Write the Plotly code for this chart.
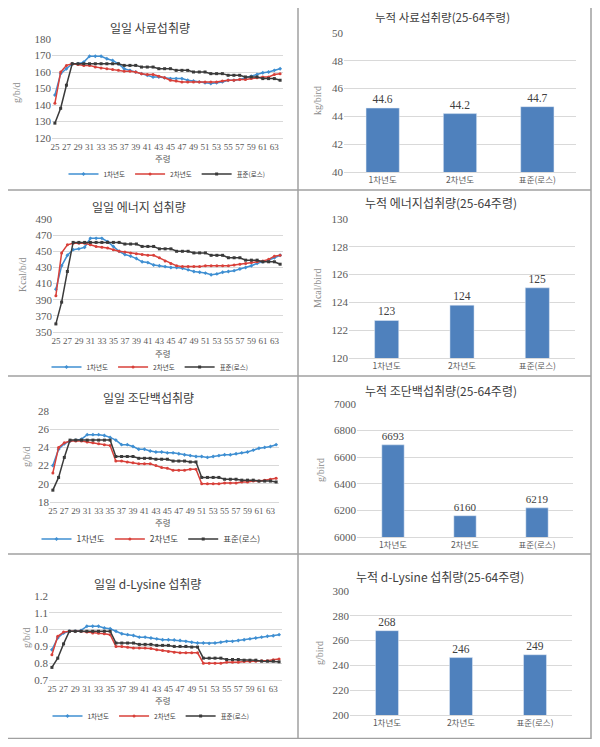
import plotly.graph_objects as go

# browser body margin is 8 px; the figure is sized to fill the rest of the window
OFF = 8
W, H = 584, 731

weeks = [str(w) for w in range(25, 65)]
tick_weeks = [str(w) for w in range(25, 65, 2)]
series_names = ["1차년도", "2차년도", "표준(로스)"]
bar_categories = ["1차년도", "2차년도", "표준(로스)"]

# ---- 일일 사료섭취량 (g/b/d)
feed_y1 = [146, 159, 162, 165, 165, 166, 169.5, 169.5, 169.5, 168, 167, 165, 162, 161, 160, 159, 158, 157, 157, 156.5,
           156, 156, 156, 155, 154.5, 154, 153.5, 153, 153.5, 154, 155, 155, 155.5, 156.5, 157.5, 158.5, 159.5, 160, 161, 162]
feed_y2 = [141, 160, 164, 165, 164.5, 164, 164, 163, 162.5, 162, 161.5, 161, 160.5, 160.5, 160, 159, 158.5, 158.5, 157.5, 156.5,
           155, 154.5, 154, 154, 154, 154, 154, 154, 154, 154.5, 155, 155, 155.5, 155.5, 156, 156.5, 157, 157, 158.5, 159]
feed_std = [129, 138, 152, 165, 165, 165, 165, 165, 165, 165, 165, 165, 164, 164, 164, 163, 163, 163, 162, 162,
            162, 161, 161, 161, 160, 160, 160, 159, 159, 159, 158, 158, 158, 157, 157, 157, 156, 156, 156, 155]

# ---- 일일 에너지 섭취량 (Kcal/b/d)
energy_y1 = [403, 432, 445, 452, 453, 455, 466, 466, 466, 462, 456, 450, 446, 444, 441, 437, 436, 433, 432, 431,
             430, 430, 429, 427, 425, 424, 423, 421, 422, 424, 425, 426, 428, 430, 432, 435, 437, 439, 442, 445]
energy_y2 = [395, 448, 458, 460, 460, 460, 458, 456, 455, 454, 452, 450, 449, 448, 447, 446, 445, 445, 442, 438,
             435, 432, 431, 431, 431, 431, 432, 432, 432, 432, 432, 433, 434, 435, 436, 437, 438, 440, 444, 445]
energy_std = [360, 387, 425, 461, 461, 461, 461, 461, 461, 461, 461, 461, 459, 459, 459, 456, 456, 456, 453, 453,
              453, 450, 450, 450, 448, 448, 448, 445, 445, 445, 442, 442, 442, 439, 439, 439, 437, 437, 437, 434]

# ---- 일일 조단백섭취량 (g/b/d)
protein_y1 = [22.0, 23.8, 24.4, 24.7, 24.8, 24.9, 25.4, 25.4, 25.4, 25.3, 25.1, 24.8, 24.3, 24.3, 24.1, 23.8, 23.8, 23.6, 23.5, 23.5,
              23.4, 23.4, 23.3, 23.2, 23.1, 23.0, 23.0, 22.9, 23.0, 23.1, 23.2, 23.2, 23.3, 23.4, 23.5, 23.7, 23.9, 24.0, 24.1, 24.3]
protein_y2 = [21.2, 24.0, 24.5, 24.7, 24.7, 24.7, 24.6, 24.5, 24.4, 24.3, 24.2, 22.5, 22.5, 22.4, 22.3, 22.2, 22.2, 22.2, 22.0, 21.8,
              21.7, 21.5, 21.5, 21.5, 21.6, 21.6, 20.0, 20.0, 20.0, 20.0, 20.1, 20.1, 20.1, 20.2, 20.2, 20.3, 20.3, 20.4, 20.5, 20.6]
protein_std = [19.3, 20.7, 22.9, 24.8, 24.8, 24.8, 24.8, 24.8, 24.8, 24.8, 24.8, 23.0, 23.0, 23.0, 23.0, 22.8, 22.8, 22.8, 22.7, 22.7,
               22.7, 22.5, 22.5, 22.5, 22.4, 22.4, 20.7, 20.7, 20.7, 20.7, 20.5, 20.5, 20.5, 20.4, 20.4, 20.4, 20.3, 20.3, 20.3, 20.2]

# ---- 일일 d-Lysine 섭취량 (g/b/d)
lys_y1 = [0.88, 0.95, 0.98, 0.99, 0.99, 0.995, 1.02, 1.02, 1.02, 1.01, 1.005, 0.99, 0.975, 0.97, 0.965, 0.955, 0.955, 0.95, 0.945, 0.94,
          0.94, 0.938, 0.935, 0.93, 0.925, 0.92, 0.92, 0.918, 0.92, 0.925, 0.93, 0.93, 0.935, 0.94, 0.945, 0.95, 0.955, 0.96, 0.963, 0.97]
lys_y2 = [0.85, 0.96, 0.985, 0.99, 0.99, 0.99, 0.985, 0.98, 0.978, 0.975, 0.97, 0.90, 0.90, 0.895, 0.89, 0.89, 0.89, 0.888, 0.88, 0.875,
          0.87, 0.865, 0.862, 0.862, 0.862, 0.862, 0.80, 0.80, 0.80, 0.80, 0.805, 0.805, 0.805, 0.81, 0.81, 0.812, 0.815, 0.815, 0.82, 0.825]
lys_std = [0.775, 0.83, 0.915, 0.99, 0.99, 0.99, 0.99, 0.99, 0.99, 0.99, 0.99, 0.92, 0.92, 0.92, 0.92, 0.912, 0.912, 0.912, 0.906, 0.906,
           0.906, 0.90, 0.90, 0.90, 0.896, 0.896, 0.83, 0.83, 0.83, 0.83, 0.822, 0.822, 0.822, 0.818, 0.818, 0.818, 0.812, 0.812, 0.812, 0.808]

# ---- 누적 (25-64주령)
cum_feed = [44.6, 44.2, 44.7]
cum_energy = [122.7, 123.8, 125.05]
cum_protein = [6693, 6160, 6219]
cum_lysine = [268, 246.3, 248.6]

line_titles = ["일일 사료섭취량", "일일 에너지 섭취량", "일일 조단백섭취량", "일일 d-Lysine 섭취량"]
bar_titles = ["누적 사료섭취량(25-64주령)", "누적 에너지섭취량(25-64주령)",
              "누적 조단백섭취량(25-64주령)", "누적 d-Lysine 섭취량(25-64주령)"]
line_units = ["g/b/d", "Kcal/b/d", "g/b/d", "g/b/d"]
bar_units = ["kg/bird", "Mcal/bird", "g/bird", "g/bird"]
x_title = "주령"

line_data = [(feed_y1, feed_y2, feed_std), (energy_y1, energy_y2, energy_std),
             (protein_y1, protein_y2, protein_std), (lys_y1, lys_y2, lys_std)]
bar_data = [cum_feed, cum_energy, cum_protein, cum_lysine]
line_ranges = [(120, 180, 10), (350, 490, 20), (18, 28, 2), (0.7, 1.2, 0.1)]
line_tickfmt = ["", "", "", ".1f"]
bar_ranges = [(40, 50, 2), (120, 130, 2), (6000, 7000, 200), (200, 300, 20)]
bar_textfmt = ["%{y:.1f}", "%{y:.0f}", "%{y:.0f}", "%{y:.0f}"]

# ---- layout geometry (pixels in the reference window)
line_x = [(52, 283), (53, 283), (50, 279), (49, 282)]
line_y = [(39, 138), (219, 332), (411, 502), (596, 680)]
bar_x = [(344, 576), (349, 575), (357, 573), (350, 572)]
bar_y = [(33, 172), (219, 358), (404, 537), (591, 715)]
bar_w = [0.43, 0.32, 0.31, 0.31]
line_title_pos = [(150, 27), (139, 206), (148, 397), (147, 583)]
bar_title_pos = [(442, 17), (441, 202), (441, 391), (440, 576)]
line_ytitle_pos = [(17, 93), (22, 275), (26, 457), (26, 638)]
bar_ytitle_pos = [(317, 100), (317, 288), (320, 470), (319, 653)]
xtitle_pos = [(163, 158), (163, 352.5), (163, 522), (163, 700)]
legend_pos = [(167, 174), (150, 367), (151, 539), (151, 716)]
legend_font = [6.5, 6.5, 8.5, 6.5]

colors = ["#3f8fd2", "#d8403a", "#3a3a3a"]
symbols = ["diamond", "circle", "square"]

SERIF = "Liberation Serif, Noto Sans CJK KR"
KR = "Noto Sans CJK KR, Liberation Serif"
GRID = "#d9d9d9"
TICKC = "#595959"


def px(x):
    return (x - OFF) / W


def py(y):
    return 1 - (y - OFF) / H


def note(text, x, y, size, family, color, angle=0):
    return dict(text=text, x=px(x), y=py(y), xref="paper", yref="paper", showarrow=False,
                xanchor="center", yanchor="middle", textangle=angle,
                font=dict(family=family, size=size, color=color))


fig = go.Figure()
layout = dict(width=W, height=H, margin=dict(l=0, r=0, t=0, b=0),
              paper_bgcolor="white", plot_bgcolor="white", showlegend=True)
annotations = []
shapes = []

for i in range(4):
    xa = 2 * i + 1
    xb = 2 * i + 2
    xl_name = "x" if xa == 1 else f"x{xa}"
    yl_name = "y" if xa == 1 else f"y{xa}"
    leg = "legend" if i == 0 else f"legend{i + 1}"
    for s in range(3):
        fig.add_trace(go.Scatter(
            x=weeks, y=line_data[i][s], name=series_names[s], mode="lines+markers",
            line=dict(color=colors[s], width=1.5),
            marker=dict(symbol=symbols[s], size=3, color=colors[s]),
            xaxis=xl_name, yaxis=yl_name, legend=leg))
    lo, hi, dt = line_ranges[i]
    layout["xaxis" if xa == 1 else f"xaxis{xa}"] = dict(
        domain=[px(line_x[i][0]), px(line_x[i][1])], anchor=yl_name, type="category",
        range=[-0.5, 39.5], tickmode="array", tickvals=tick_weeks, ticktext=tick_weeks,
        tickfont=dict(family=SERIF, size=9, color=TICKC), showgrid=False,
        showline=True, linecolor=GRID, ticks="", automargin=False, tickangle=0)
    layout["yaxis" if xa == 1 else f"yaxis{xa}"] = dict(
        domain=[py(line_y[i][1]), py(line_y[i][0])], anchor=xl_name,
        range=[lo, hi], dtick=dt, tick0=lo, tickformat=line_tickfmt[i],
        tickfont=dict(family=SERIF, size=11, color=TICKC), showgrid=True,
        gridcolor=GRID, gridwidth=1, zeroline=False, automargin=False, ticks="")
    layout[leg] = dict(x=px(legend_pos[i][0]), y=py(legend_pos[i][1]), xanchor="center",
                       yanchor="middle", orientation="h", itemwidth=30,
                       font=dict(family=KR, size=legend_font[i], color="#404040"),
                       bgcolor="rgba(0,0,0,0)")
    annotations.append(note(line_titles[i], *line_title_pos[i], 12, KR, "#404040"))
    annotations.append(note(line_units[i], *line_ytitle_pos[i], 10, SERIF, "#8c8c8c", -90))
    annotations.append(note(x_title, *xtitle_pos[i], 8.5, KR, "#595959"))

    # bar chart
    xb_name = f"x{xb}"
    yb_name = f"y{xb}"
    fig.add_trace(go.Bar(
        x=bar_categories, y=bar_data[i], width=bar_w[i], marker=dict(color="#4f81bd"),
        texttemplate=bar_textfmt[i], textposition="outside", cliponaxis=False,
        textfont=dict(family=SERIF, size=11.5, color="#404040"),
        xaxis=xb_name, yaxis=yb_name, showlegend=False))
    lo, hi, dt = bar_ranges[i]
    layout[f"xaxis{xb}"] = dict(
        domain=[px(bar_x[i][0]), px(bar_x[i][1])], anchor=yb_name, type="category",
        range=[-0.5, 2.5], tickfont=dict(family=KR, size=8.5, color=TICKC),
        showgrid=False, showline=True, linecolor=GRID, ticks="", automargin=False)
    layout[f"yaxis{xb}"] = dict(
        domain=[py(bar_y[i][1]), py(bar_y[i][0])], anchor=xb_name,
        range=[lo, hi], dtick=dt, tick0=lo,
        tickfont=dict(family=SERIF, size=11, color=TICKC), showgrid=True,
        gridcolor=GRID, gridwidth=1, zeroline=False, automargin=False, ticks="")
    annotations.append(note(bar_titles[i], *bar_title_pos[i], 11.5 if i == 0 else 12, KR, "#404040"))
    annotations.append(note(bar_units[i], *bar_ytitle_pos[i], 10, SERIF, "#8c8c8c", -90))

# table borders
BORDER = "#a0a0a0"
shapes.append(dict(type="rect", xref="paper", yref="paper", x0=px(5), x1=px(591), y0=py(738.5), y1=py(5),
                   line=dict(color=BORDER, width=1.5)))
shapes.append(dict(type="line", xref="paper", yref="paper", x0=px(298), x1=px(298), y0=py(738.5), y1=py(5),
                   line=dict(color=BORDER, width=1.5)))
for yy in [190, 376, 554]:
    shapes.append(dict(type="line", xref="paper", yref="paper", x0=px(5), x1=px(591), y0=py(yy), y1=py(yy),
                       line=dict(color=BORDER, width=1.5)))

layout["annotations"] = annotations
layout["shapes"] = shapes
fig.update_layout(**layout)
fig.write_html("out.html")
